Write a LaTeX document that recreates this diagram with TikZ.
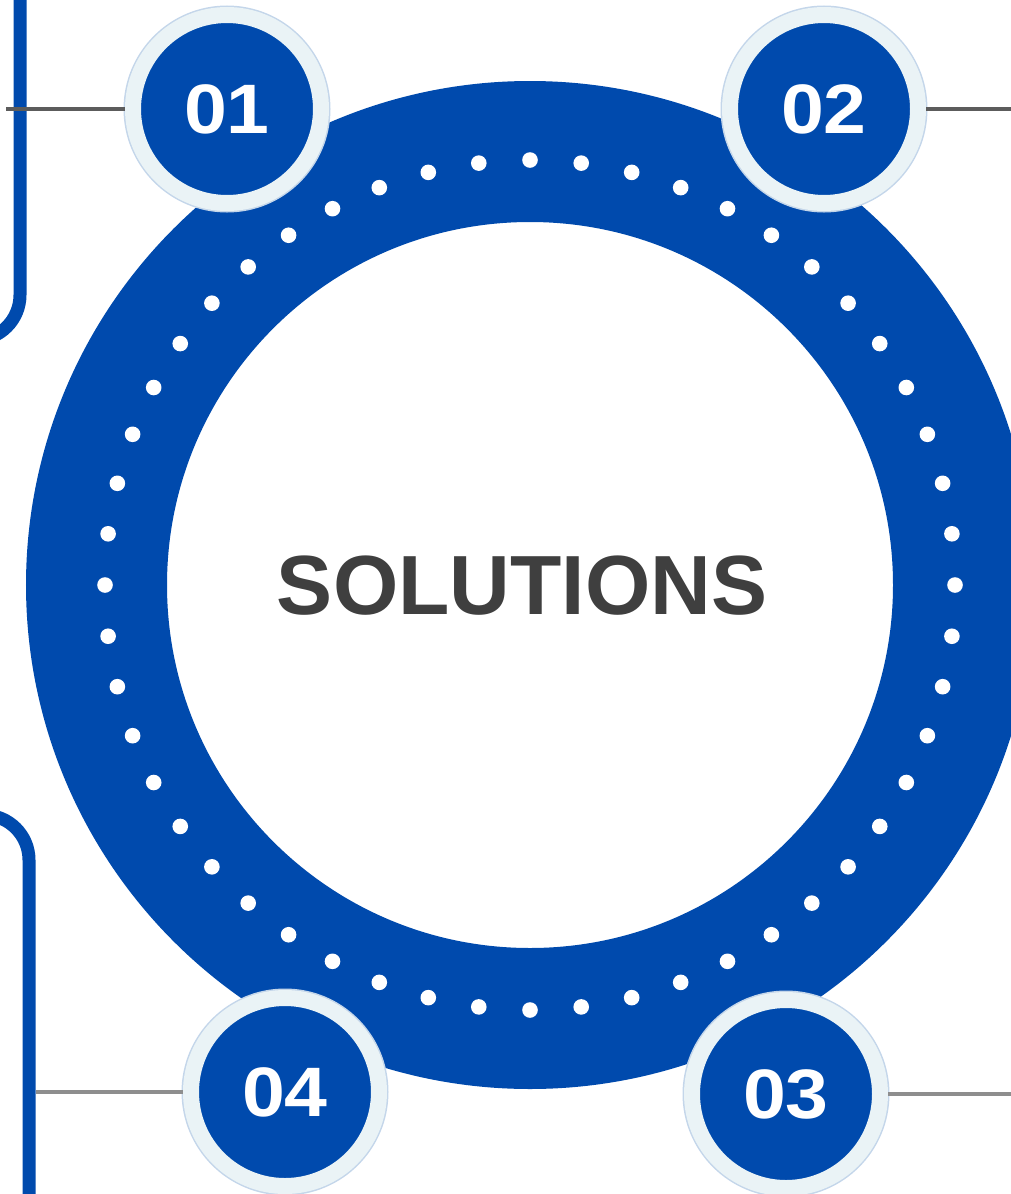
\documentclass[tikz,border=0pt]{standalone}
\usepackage{fontspec}
\setmainfont{Liberation Sans}
\newfontfamily\badgefont[FakeStretch=1.1]{Liberation Sans}
\definecolor{solblue}{HTML}{004AAD}
\definecolor{badgerim}{HTML}{EAF3F6}
\definecolor{rimedge}{HTML}{C4D6EA}
\definecolor{titlegray}{HTML}{3F3F3F}
\definecolor{leadgray}{HTML}{5C5C5C}
\definecolor{leadgraylow}{HTML}{8E8E8E}
\begin{document}
\begin{tikzpicture}[x=1pt,y=-1pt,
    hub/.style={circle, draw=solblue, line width=141pt, minimum size=867pt, inner sep=0pt},
    badge/.style={circle, minimum size=188pt, inner sep=0pt, fill=solblue,
        draw=badgerim, line width=16pt, preaction={draw=rimedge, line width=19pt},
        text=white, font=\badgefont\fontsize{70}{70}\selectfont\bfseries},
    title/.style={text=titlegray, font=\fontsize{84}{84}\selectfont\bfseries},
    lead/.style={draw=leadgray, line width=4pt},
    rail/.style={draw=solblue, line width=13pt, rounded corners=45pt}]
    \useasboundingbox (0,0) rectangle (1011,1194);
    \clip (0,0) rectangle (1011,1194);
    % side rails
    \draw[rail] (20,-20) -- (20,340) -- (-60,340);
    \draw[rail] (-60,815) -- (29,815) -- (29,1220);
    % ring with dots
    \node[hub] (hub) at (530,585) {};
    \foreach \k in {0,...,51}
        \fill[white] (hub.center) ++({(360/52)*\k}:425) circle (7.8);
    \node[title] (title) at (522,586) {SOLUTIONS};
    % badges
    \node[badge] (n1) at (227,109) {01};
    \node[badge] (n2) at (824,109) {02};
    \node[badge] (n3) at (786,1094) {03};
    \node[badge] (n4) at (285,1092) {04};
    \coordinate (e1) at (6,109);
    \coordinate (e2) at (1011,109);
    \coordinate (e3) at (1011,1094);
    \coordinate (e4) at (36,1092);
    \draw[lead] (e1) -- (n1);
    \draw[lead] (n2) -- (e2);
    \draw[lead, draw=leadgraylow] (n3) -- (e3);
    \draw[lead, draw=leadgraylow] (e4) -- (n4);
\end{tikzpicture}
\end{document}
